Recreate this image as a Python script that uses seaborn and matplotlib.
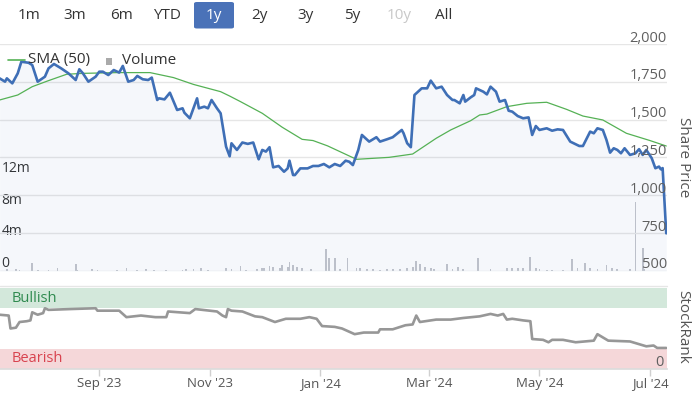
import matplotlib
matplotlib.use("Agg")
import matplotlib.pyplot as plt
import matplotlib.dates as mdates
import matplotlib.transforms as mtransforms
from matplotlib.patches import FancyBboxPatch
from matplotlib.lines import Line2D
import pandas as pd
import seaborn as sns

sns.set_theme(style="white")
plt.rcParams['font.family'] = ['Open Sans', 'DejaVu Sans']

# ---------------- data ----------------
range_buttons = ["1m", "3m", "6m", "YTD", "1y", "2y", "3y", "5y", "10y", "All"]
price_ticks = [500, 750, 1000, 1250, 1500, 1750, 2000]
volume_ticks = [0, 4, 8, 12]

price_dates = [
    "2023-07-08", "2023-07-11", "2023-07-12", "2023-07-15", "2023-07-18", "2023-07-20", "2023-07-24", "2023-07-26", "2023-07-29", "2023-08-02",
    "2023-08-04", "2023-08-07", "2023-08-11", "2023-08-15", "2023-08-19", "2023-08-21", "2023-08-23", "2023-08-26", "2023-08-30", "2023-09-01",
    "2023-09-03", "2023-09-06", "2023-09-09", "2023-09-12", "2023-09-14", "2023-09-17", "2023-09-20", "2023-09-22", "2023-09-25", "2023-09-28",
    "2023-09-30", "2023-10-03", "2023-10-04", "2023-10-07", "2023-10-10", "2023-10-14", "2023-10-17", "2023-10-18", "2023-10-21", "2023-10-25",
    "2023-10-26", "2023-10-29", "2023-10-31", "2023-11-02", "2023-11-05", "2023-11-07", "2023-11-10", "2023-11-12", "2023-11-13", "2023-11-16",
    "2023-11-19", "2023-11-22", "2023-11-25", "2023-11-28", "2023-11-30", "2023-12-02", "2023-12-04", "2023-12-06", "2023-12-09", "2023-12-12",
    "2023-12-14", "2023-12-15", "2023-12-17", "2023-12-18", "2023-12-21", "2023-12-25", "2023-12-28", "2023-12-31", "2024-01-03", "2024-01-06",
    "2024-01-09", "2024-01-12", "2024-01-15", "2024-01-17", "2024-01-19", "2024-01-22", "2024-01-24", "2024-01-28", "2024-02-01", "2024-02-03",
    "2024-02-07", "2024-02-10", "2024-02-15", "2024-02-16", "2024-02-18", "2024-02-20", "2024-02-22", "2024-02-26", "2024-02-29", "2024-03-02",
    "2024-03-05", "2024-03-08", "2024-03-11", "2024-03-14", "2024-03-15", "2024-03-18", "2024-03-20", "2024-03-21", "2024-03-24", "2024-03-26",
    "2024-03-27", "2024-03-31", "2024-04-02", "2024-04-04", "2024-04-07", "2024-04-09", "2024-04-12", "2024-04-14", "2024-04-16", "2024-04-19",
    "2024-04-22", "2024-04-25", "2024-04-27", "2024-04-29", "2024-05-01", "2024-05-05", "2024-05-08", "2024-05-11", "2024-05-14", "2024-05-18",
    "2024-05-23", "2024-05-25", "2024-05-29", "2024-05-31", "2024-06-02", "2024-06-05", "2024-06-07", "2024-06-09", "2024-06-11", "2024-06-13",
    "2024-06-15", "2024-06-17", "2024-06-20", "2024-06-23", "2024-06-25", "2024-06-27", "2024-06-29", "2024-07-02", "2024-07-04", "2024-07-06",
    "2024-07-07", "2024-07-08", "2024-07-10",
]
price_values = [
    1773, 1751, 1773, 1740, 1806, 1883, 1876, 1861, 1751, 1784,
    1839, 1868, 1839, 1806, 1762, 1833, 1806, 1751, 1784, 1817,
    1817, 1795, 1828, 1811, 1855, 1751, 1762, 1789, 1767, 1762,
    1778, 1630, 1641, 1634, 1678, 1564, 1575, 1546, 1509, 1641,
    1575, 1586, 1575, 1630, 1575, 1542, 1322, 1258, 1344, 1300,
    1349, 1340, 1349, 1238, 1300, 1289, 1318, 1185, 1194, 1156,
    1178, 1229, 1134, 1134, 1178, 1178, 1194, 1194, 1207, 1185,
    1207, 1194, 1229, 1222, 1200, 1300, 1399, 1355, 1384, 1355,
    1371, 1384, 1432, 1410, 1344, 1318, 1663, 1707, 1707, 1758,
    1707, 1718, 1663, 1630, 1630, 1608, 1663, 1619, 1647, 1663,
    1707, 1685, 1667, 1718, 1685, 1619, 1630, 1559, 1553, 1524,
    1509, 1515, 1399, 1458, 1432, 1443, 1427, 1436, 1432, 1355,
    1326, 1326, 1421, 1410, 1443, 1432, 1366, 1282, 1311, 1300,
    1278, 1311, 1267, 1278, 1305, 1267, 1300, 1245, 1179, 1190,
    1172, 1180, 749,
]

sma_dates = [
    "2023-07-08", "2023-07-18", "2023-07-26", "2023-08-04", "2023-08-14", "2023-08-23", "2023-09-11", "2023-09-29", "2023-10-12", "2023-10-23",
    "2023-11-07", "2023-11-12", "2023-11-18", "2023-11-30", "2023-12-11", "2023-12-22", "2023-12-28", "2024-01-05", "2024-01-21", "2024-02-08",
    "2024-02-21", "2024-03-05", "2024-03-13", "2024-03-24", "2024-03-29", "2024-04-02", "2024-04-13", "2024-04-24", "2024-05-05", "2024-05-16",
    "2024-05-25", "2024-06-05", "2024-06-18", "2024-07-01", "2024-07-10",
]
sma_values = [
    1630, 1663, 1718, 1758, 1800, 1806, 1811, 1811, 1778, 1733,
    1685, 1656, 1619, 1542, 1450, 1370, 1362, 1327, 1238, 1251,
    1273, 1377, 1432, 1493, 1531, 1537, 1586, 1608, 1615, 1568,
    1524, 1498, 1410, 1362, 1326,
]

vol_dates = [
    "2023-07-12", "2023-07-17", "2023-07-19", "2023-07-26", "2023-07-29", "2023-08-04", "2023-08-09", "2023-08-19", "2023-08-20", "2023-08-28",
    "2023-08-31", "2023-09-11", "2023-09-16", "2023-09-22", "2023-09-27", "2023-10-01", "2023-10-08", "2023-10-17", "2023-10-19", "2023-10-23",
    "2023-10-27", "2023-10-31", "2023-11-10", "2023-11-13", "2023-11-18", "2023-11-21", "2023-11-27", "2023-11-30", "2023-12-01", "2023-12-04",
    "2023-12-06", "2023-12-10", "2023-12-11", "2023-12-14", "2023-12-15", "2023-12-17", "2023-12-19", "2023-12-22", "2023-12-27", "2024-01-04",
    "2024-01-06", "2024-01-09", "2024-01-12", "2024-01-16", "2024-01-21", "2024-01-23", "2024-01-27", "2024-01-30", "2024-02-03", "2024-02-07",
    "2024-02-10", "2024-02-14", "2024-02-18", "2024-02-21", "2024-02-23", "2024-02-25", "2024-02-28", "2024-03-02", "2024-03-04", "2024-03-11",
    "2024-03-14", "2024-03-17", "2024-03-20", "2024-03-28", "2024-04-04", "2024-04-13", "2024-04-16", "2024-04-19", "2024-04-22", "2024-04-26",
    "2024-04-29", "2024-05-01", "2024-05-05", "2024-05-08", "2024-05-14", "2024-05-19", "2024-05-22", "2024-05-26", "2024-05-29", "2024-06-02",
    "2024-06-07", "2024-06-10", "2024-06-13", "2024-06-20", "2024-06-23", "2024-06-27", "2024-06-28",
]
vol_values_m = [
    0.25, 0.25, 0.17, 0.97, 0.17, 0.17, 0.34, 0.88, 0.13, 0.25,
    0.17, 0.17, 0.34, 0.17, 0.25, 0.17, 0.17, 0.17, 0.25, 0.25,
    0.42, 0.17, 0.42, 0.25, 0.67, 0.17, 0.25, 0.42, 0.42, 0.67,
    0.55, 0.42, 0.76, 0.55, 1.1, 0.76, 0.55, 0.34, 0.25, 2.8,
    1.6, 1.6, 0.25, 1.7, 0.4, 0.35, 0.2, 0.2, 0.17, 0.25,
    0.25, 0.25, 0.35, 0.55, 1.2, 0.84, 0.55, 0.4, 0.25, 0.84,
    0.25, 0.55, 0.25, 1.7, 0.25, 0.35, 0.4, 0.35, 0.4, 1.8,
    0.4, 0.25, 0.17, 0.17, 0.17, 1.5, 0.4, 0.97, 0.4, 0.25,
    0.76, 0.4, 0.25, 0.25, 8.7, 2.9, 0.25,
]

rank_dates = [
    "2023-07-08", "2023-07-13", "2023-07-14", "2023-07-17", "2023-07-19", "2023-07-23", "2023-07-25", "2023-07-26", "2023-07-29", "2023-08-01",
    "2023-08-02", "2023-08-04", "2023-08-16", "2023-08-30", "2023-08-31", "2023-09-12", "2023-09-16", "2023-09-24", "2023-10-02", "2023-10-08",
    "2023-10-09", "2023-10-21", "2023-10-24", "2023-11-05", "2023-11-08", "2023-11-10", "2023-11-11", "2023-11-13", "2023-11-19", "2023-11-26",
    "2023-11-30", "2023-12-07", "2023-12-13", "2023-12-21", "2023-12-26", "2023-12-30", "2024-01-02", "2024-01-09", "2024-01-13", "2024-01-17",
    "2024-01-20", "2024-01-25", "2024-02-02", "2024-02-03", "2024-02-10", "2024-02-17", "2024-02-21", "2024-02-23", "2024-02-25", "2024-03-05",
    "2024-03-13", "2024-03-20", "2024-03-29", "2024-04-04", "2024-04-08", "2024-04-11", "2024-04-13", "2024-04-16", "2024-04-22", "2024-04-26",
    "2024-04-27", "2024-05-03", "2024-05-06", "2024-05-08", "2024-05-14", "2024-05-21", "2024-05-31", "2024-06-02", "2024-06-08", "2024-06-20",
    "2024-06-29", "2024-07-03", "2024-07-05", "2024-07-10",
]
rank_values = [
    67, 66, 50, 51, 58, 59, 60, 70, 67, 69,
    75, 73, 74, 75, 72, 72, 64, 66, 64, 64,
    71, 69, 74, 71, 66, 64, 74, 72, 71, 65,
    64, 58, 62, 62, 64, 62, 53, 52, 50, 46,
    43, 45, 45, 49, 49, 54, 55, 66, 58, 61,
    61, 63, 65, 68, 66, 68, 61, 62, 60, 59,
    37, 36, 33, 36, 36, 33, 35, 43, 35, 34,
    28, 29, 26, 26,
]
bullish_band = (75, 100)
bearish_band = (0, 25)

# ---------------- frames ----------------
price_df = pd.DataFrame({"date": pd.to_datetime(price_dates), "price": price_values})
sma_df = pd.DataFrame({"date": pd.to_datetime(sma_dates), "sma": sma_values})
vol_df = pd.DataFrame({"date": pd.to_datetime(vol_dates), "vol": vol_values_m})
rank_df = pd.DataFrame({"date": pd.to_datetime(rank_dates), "rank": rank_values})

x_left = pd.Timestamp("2023-07-08 05:00")
x_right = pd.Timestamp("2024-07-10 10:00")

W, H = 697, 394
fig = plt.figure(figsize=(W / 100, H / 100), dpi=100)
fig.patch.set_facecolor("white")


def fx(px):
    return px / W


def fy(py):
    return 1 - py / H


BLUE = "#3f6fb6"
GREEN = "#55b155"
GRID = "#e6e6e6"
TXT = "#333333"
AXT = "#606060"

# volume axes (underneath)
ax_v = fig.add_axes([0, fy(271), fx(667), (271 - 44) / H])
# price axes (on top, transparent)
ax = fig.add_axes([0, fy(271), fx(667), (271 - 44) / H])
ax.patch.set_visible(False)
# rank axes
ax_r = fig.add_axes([0, fy(369), fx(667), (369 - 288) / H])

for a in (ax_v, ax, ax_r):
    for s in a.spines.values():
        s.set_visible(False)
    a.set_xlim(x_left, x_right)

# volume bars
ax_v.bar(vol_df["date"], vol_df["vol"], width=1.0, color="#c3c5cc", linewidth=0, zorder=2)
ax_v.set_ylim(0, 227 / 7.93)
ax_v.set_yticks([])
ax_v.set_xticks([])
vol_tr = mtransforms.blended_transform_factory(ax_v.transAxes, ax_v.transData)
for v in volume_ticks:
    lab = "0" if v == 0 else f"{v}m"
    ax_v.text(0.002, v, lab, transform=vol_tr + mtransforms.ScaledTranslation(0, 4 / 100, fig.dpi_scale_trans),
              ha="left", va="baseline", fontsize=10, color=TXT, zorder=5)

# price panel
ax.set_ylim(500, 2000)
ax.set_yticks(price_ticks)
ax.grid(axis="y", color=GRID, lw=1.0)
ax.grid(axis="x", visible=False)
ax.tick_params(left=False, right=False, bottom=False, labelleft=False, labelbottom=False)
ax.set_xticks([])
ax.fill_between(price_df["date"], price_df["price"], 500, color=BLUE, alpha=0.05, linewidth=0, zorder=1)
sns.lineplot(data=sma_df, x="date", y="sma", ax=ax, color=GREEN, lw=0.9, zorder=3)
sns.lineplot(data=price_df, x="date", y="price", ax=ax, color=BLUE, lw=1.9, zorder=4)
ax.set_xlabel("")
ax.set_ylabel("")
price_tr = mtransforms.blended_transform_factory(ax.transAxes, ax.transData)
for v in price_ticks:
    ax.text(1.0, v, f"{v:,}", transform=price_tr + mtransforms.ScaledTranslation(0, 2.5 / 100, fig.dpi_scale_trans),
            ha="right", va="baseline", fontsize=10.5, color=AXT, zorder=6)

# rank panel
ax_r.set_ylim(0, 100)
ax_r.axhspan(*bullish_band, color="#d3e8db", lw=0, zorder=0)
ax_r.axhspan(*bearish_band, color="#f5d7d9", lw=0, zorder=0)
sns.lineplot(data=rank_df, x="date", y="rank", ax=ax_r, color="#979797", lw=1.9, zorder=3)
ax_r.set_xlabel("")
ax_r.set_ylabel("")
ax_r.set_yticks([])
ax_r.grid(False)
ax_r.spines["bottom"].set_visible(True)
ax_r.spines["bottom"].set_color("#dcdcdc")
ax_r.xaxis.set_major_locator(mdates.MonthLocator(bymonth=[1, 3, 5, 7, 9, 11]))
ax_r.xaxis.set_major_formatter(mdates.DateFormatter("%b '%y"))
ax_r.tick_params(axis="x", bottom=True, length=5, width=1, color="#d0d0d0", pad=1, labelsize=9.5, labelcolor="#555555")
ax_r.text(0.018, 87.5, "Bullish", transform=mtransforms.blended_transform_factory(ax_r.transAxes, ax_r.transData),
          ha="left", va="center", fontsize=10.5, color="#2f8a4f")
ax_r.text(0.018, 12.5, "Bearish", transform=mtransforms.blended_transform_factory(ax_r.transAxes, ax_r.transData),
          ha="left", va="center", fontsize=10.5, color="#d8434f")
ax_r.text(1.0, 0, "0", transform=mtransforms.blended_transform_factory(ax_r.transAxes, ax_r.transData)
          + mtransforms.ScaledTranslation(-3 / 100, 3 / 100, fig.dpi_scale_trans),
          ha="right", va="baseline", fontsize=10.5, color=AXT)

# separator lines
fig.add_artist(Line2D([0, fx(667)], [fy(286), fy(286)], color=GRID, lw=1.0, transform=fig.transFigure))

# axis titles
fig.text(fx(683), fy(157), "Share Price", rotation=270, ha="center", va="center", fontsize=11, color="#555555")
fig.text(fx(683), fy(327), "StockRank", rotation=270, ha="center", va="center", fontsize=11, color="#555555")

# legend
fig.add_artist(Line2D([fx(8), fx(25)], [fy(59.5), fy(59.5)], color=GREEN, lw=1.2, transform=fig.transFigure))
fig.text(fx(28), fy(60), "SMA (50)", ha="left", va="center", fontsize=11, color=TXT)
fig.add_artist(FancyBboxPatch((fx(105.5), fy(64.5)), fx(6), 6 / H, boxstyle="square,pad=0",
                              facecolor="#aaaaaa", edgecolor="none", transform=fig.transFigure))
fig.text(fx(122), fy(60), "Volume", ha="left", va="center", fontsize=11, color=TXT)

# range selector buttons
btn_x = [29.5, 75, 121.5, 167, 214, 259, 306, 352, 399, 444]
fig.add_artist(FancyBboxPatch((fx(194), fy(28.5)), fx(40), 26.5 / H,
                              boxstyle="round,pad=0,rounding_size=0.004",
                              facecolor="#4a72b8", edgecolor="none", transform=fig.transFigure))
for lab, bx in zip(range_buttons, btn_x):
    col = TXT
    if lab == "1y":
        col = "white"
    elif lab == "10y":
        col = "#c8c8c8"
    fig.text(fx(bx), fy(15.5), lab, ha="center", va="center", fontsize=11, color=col)

fig.savefig("out.png", dpi=100, facecolor="white")
